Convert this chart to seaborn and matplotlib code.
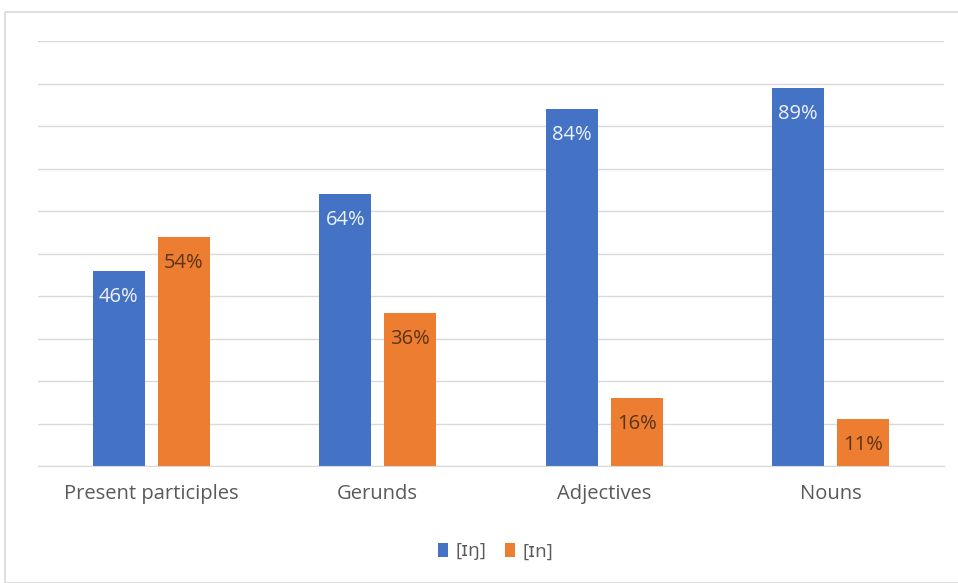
import numpy as np
import pandas as pd
import matplotlib.pyplot as plt
import matplotlib.patches as mpatches
import seaborn as sns

categories = ['Present participles', 'Gerunds', 'Adjectives', 'Nouns']
series_names = ['[ɪŋ]', '[ɪn]']
ing_values = [46, 64, 84, 89]
in_values = [54, 36, 16, 11]
colors = ['#4472C4', '#ED7D31']

df = pd.DataFrame({
    'category': categories * 2,
    'variant': [series_names[0]] * 4 + [series_names[1]] * 4,
    'value': ing_values + in_values,
})

sns.set_style('white')
plt.rcParams['font.family'] = ['Open Sans', 'DejaVu Sans']

fig = plt.figure(figsize=(9.58, 5.83), dpi=100)
fig.patches.append(mpatches.Rectangle((5 / 958, 0), 1, 1 - 12 / 583, transform=fig.transFigure,
                                      fill=False, edgecolor='#d9d9d9', lw=1.2))
ax = fig.add_axes([38 / 958, 1 - 466 / 583, 906 / 958, 425 / 583])

sns.barplot(data=df, x='category', y='value', hue='variant', palette=colors,
            width=0.574, gap=0.2, saturation=1, linewidth=0, ax=ax, legend=True)

ax.set_ylim(0, 100)
ax.set_yticks(np.arange(0, 101, 10))
ax.yaxis.grid(True, color='#d9d9d9', lw=1)
ax.set_axisbelow(True)
ax.set_yticklabels([])
ax.tick_params(axis='y', length=0)
ax.tick_params(axis='x', length=0, labelsize=14.5, labelcolor='#595959', pad=13)
for s in ['top', 'right', 'left']:
    ax.spines[s].set_visible(False)
ax.spines['bottom'].set_color('#d9d9d9')
ax.set_xlabel('')
ax.set_ylabel('')

label_colors = ['#eef2fa', '#5a3416']
for cont, lc in zip(ax.containers, label_colors):
    ax.bar_label(cont, labels=[f'{int(v)}%' for v in cont.datavalues],
                 label_type='edge', padding=-26, color=lc, fontsize=14.5)

leg = ax.legend(loc='upper center', bbox_to_anchor=(0.505, -0.14), ncol=2, frameon=False,
                fontsize=13.5, handlelength=0.55, handleheight=0.75, handletextpad=0.4,
                columnspacing=1.0)
for t in leg.get_texts():
    t.set_color('#595959')

fig.savefig('out.png', dpi=100)
